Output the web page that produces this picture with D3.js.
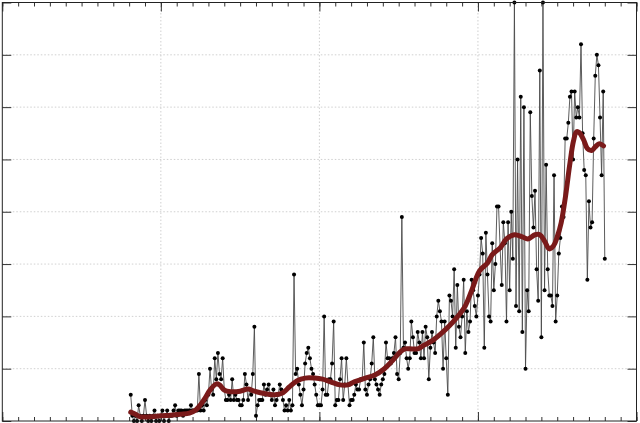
<!DOCTYPE html>
<html>
<head>
<meta charset="utf-8">
<script src="https://cdn.jsdelivr.net/npm/d3@7"></script>
<style>
  html, body { margin: 0; padding: 0; background: #fff; }
  svg { display: block; }
</style>
</head>
<body>
<svg id="chart" width="640" height="423"></svg>
<script>
// ---- data ----
const xDomain = [0, 400];
const yDomain = [0, 80];
const xMajorTicks = [0, 100, 200, 300, 400];
const yMajorTicks = [0, 10, 20, 30, 40, 50, 60, 70, 80];
const firstIndex = 81;
const counts = [
  5,1,0,1,0,3,1,0,1,4,
  1,0,1,0,1,2,0,1,0,1,
  2,0,1,2,0,1,1,2,3,1,
  2,2,2,1,2,2,2,2,3,2,2,
  2,2,9,2,3,2,4,3,5,10,6,5,12,8,13,9,8,12,6,
  4,4,5,4,8,4,5,4,4,3,3,4,9,7,4,6,5,9,18,1,
  3,4,4,4,7,5,6,7,5,4,6,3,4,5,7,6,4,2,3,2,
  4,2,3,28,9,10,7,5,3,6,11,13,14,12,10,9,7,5,3,3,
  3,6,20,5,5,8,8,11,19,3,4,4,8,12,4,7,12,7,3,4,
  4,5,7,6,6,8,8,15,6,5,7,8,11,16,8,7,6,5,7,8,
  9,15,12,12,11,12,13,16,9,8,13,39,14,15,12,10,12,19,16,13,
  13,17,15,12,17,12,18,16,8,14,17,15,13,20,23,21,19,10,19,12,
  5,24,23,20,29,14,26,18,16,20,27,13,21,17,19,27,25,22,20,24,
  28,35,32,14,36,28,20,19,34,25,30,41,41,33,26,38,34,19,38,25,
  40,31,80,22,50,21,62,17,60,10,25,21,59,43,37,44,29,23,67,16,
  80,25,49,29,24,24,22,47,19,24,32,35,41,39,54,54,57,62,63,50,
  63,58,60,58,72,55,48,47,27,42,37,38,54,66,70,68,58,47,63,31
];
const smoothIdx = [81,84,87,93,100,106,112,118,122,125,128,131,135,137,140,144,150,155,159,166,
  172,177,181,186,191,197,202,207,213,218,222,229,235,241,246,251,254,257,262,266,
  271,276,282,287,292,296,301,306,309,314,318,323,328,331.5,336,339,342,345,347.7,350,
  352.5,355.3,357.8,360.3,362.2,364,366.6,369,371.7,374,376.6,379.2];
const smoothVal = [1.7,1.3,0.8,0.8,1.0,1.1,1.3,1.5,2.1,3.1,4.4,5.9,7.1,6.9,5.9,5.6,5.7,6.1,5.7,5.2,
  5.0,5.4,6.5,7.7,8.2,8.2,8.0,7.5,6.9,6.9,7.5,8.2,8.8,10.0,11.5,13.2,13.8,13.8,13.8,14.5,
  15.3,16.5,18.2,19.9,22,24.9,28.7,30.2,31.8,33.1,34.8,35.6,35.2,34.8,35.6,35.6,34.4,32.9,33.5,35.2,
  37.9,43.1,48.8,53.6,55.3,55.1,53.8,52.1,51.7,52.4,53,52.6];

// ---- layout ----
const L = 2.3, R = 636.5, T = 2.5, B = 421;
const svg = d3.select("#chart");
const x = d3.scaleLinear().domain(xDomain).range([L, R]);
const y = d3.scaleLinear().domain(yDomain).range([B, T]);

const pts = counts.map((v, i) => ({ i: firstIndex + i, v }));
const smooth = smoothIdx.map((d, k) => ({ i: d, v: smoothVal[k] }));

// grid
const g = svg.append("g");
g.selectAll(".gx").data(xMajorTicks.slice(1, -1)).join("line")
  .attr("x1", d => x(d)).attr("x2", d => x(d)).attr("y1", T).attr("y2", B)
  .attr("stroke", "#c4c4c4").attr("stroke-width", 0.8).attr("stroke-dasharray", "1.5,2");
g.selectAll(".gy").data(yMajorTicks.slice(1, -1)).join("line")
  .attr("x1", L).attr("x2", R).attr("y1", d => y(d)).attr("y2", d => y(d))
  .attr("stroke", "#c4c4c4").attr("stroke-width", 0.8).attr("stroke-dasharray", "1.5,2");

// axes ticks (inward, no labels)
const minorX = d3.range(xDomain[0], xDomain[1] + 1, 10);
function tickAxis(axis, tx, ty) {
  svg.append("g").attr("transform", `translate(${tx},${ty})`).call(axis)
    .call(s => s.select(".domain").remove())
    .call(s => s.selectAll("line").attr("stroke", "#333"));
}
tickAxis(d3.axisBottom(x).tickValues(minorX).tickSizeInner(-4).tickSizeOuter(0).tickFormat(""), 0, B);
tickAxis(d3.axisTop(x).tickValues(minorX).tickSizeInner(-4).tickSizeOuter(0).tickFormat(""), 0, T);
tickAxis(d3.axisBottom(x).tickValues(xMajorTicks).tickSizeInner(-9).tickSizeOuter(0).tickFormat(""), 0, B);
tickAxis(d3.axisTop(x).tickValues(xMajorTicks).tickSizeInner(-9).tickSizeOuter(0).tickFormat(""), 0, T);
tickAxis(d3.axisLeft(y).tickValues(yMajorTicks).tickSizeInner(-9).tickSizeOuter(0).tickFormat(""), L, 0);
tickAxis(d3.axisRight(y).tickValues(yMajorTicks).tickSizeInner(-9).tickSizeOuter(0).tickFormat(""), R, 0);

// raw series
const line = d3.line().x(d => x(d.i)).y(d => y(d.v));
svg.append("path").datum(pts).attr("d", line)
  .attr("fill", "none").attr("stroke", "#4a4a4a").attr("stroke-width", 0.9);
svg.append("g").selectAll("circle").data(pts).join("circle")
  .attr("cx", d => x(d.i)).attr("cy", d => y(d.v)).attr("r", 2).attr("fill", "#000");

// smoothed trend
const sline = d3.line().x(d => x(d.i)).y(d => y(d.v)).curve(d3.curveCatmullRom.alpha(0.5));
svg.append("path").datum(smooth).attr("d", sline)
  .attr("fill", "none").attr("stroke", "#7a1a1a").attr("stroke-width", 5)
  .attr("stroke-linecap", "round").attr("stroke-linejoin", "round");

// frame
svg.append("rect").attr("x", L).attr("y", T).attr("width", R - L).attr("height", B - T)
  .attr("fill", "none").attr("stroke", "#222").attr("stroke-width", 1);
</script>
</body>
</html>
